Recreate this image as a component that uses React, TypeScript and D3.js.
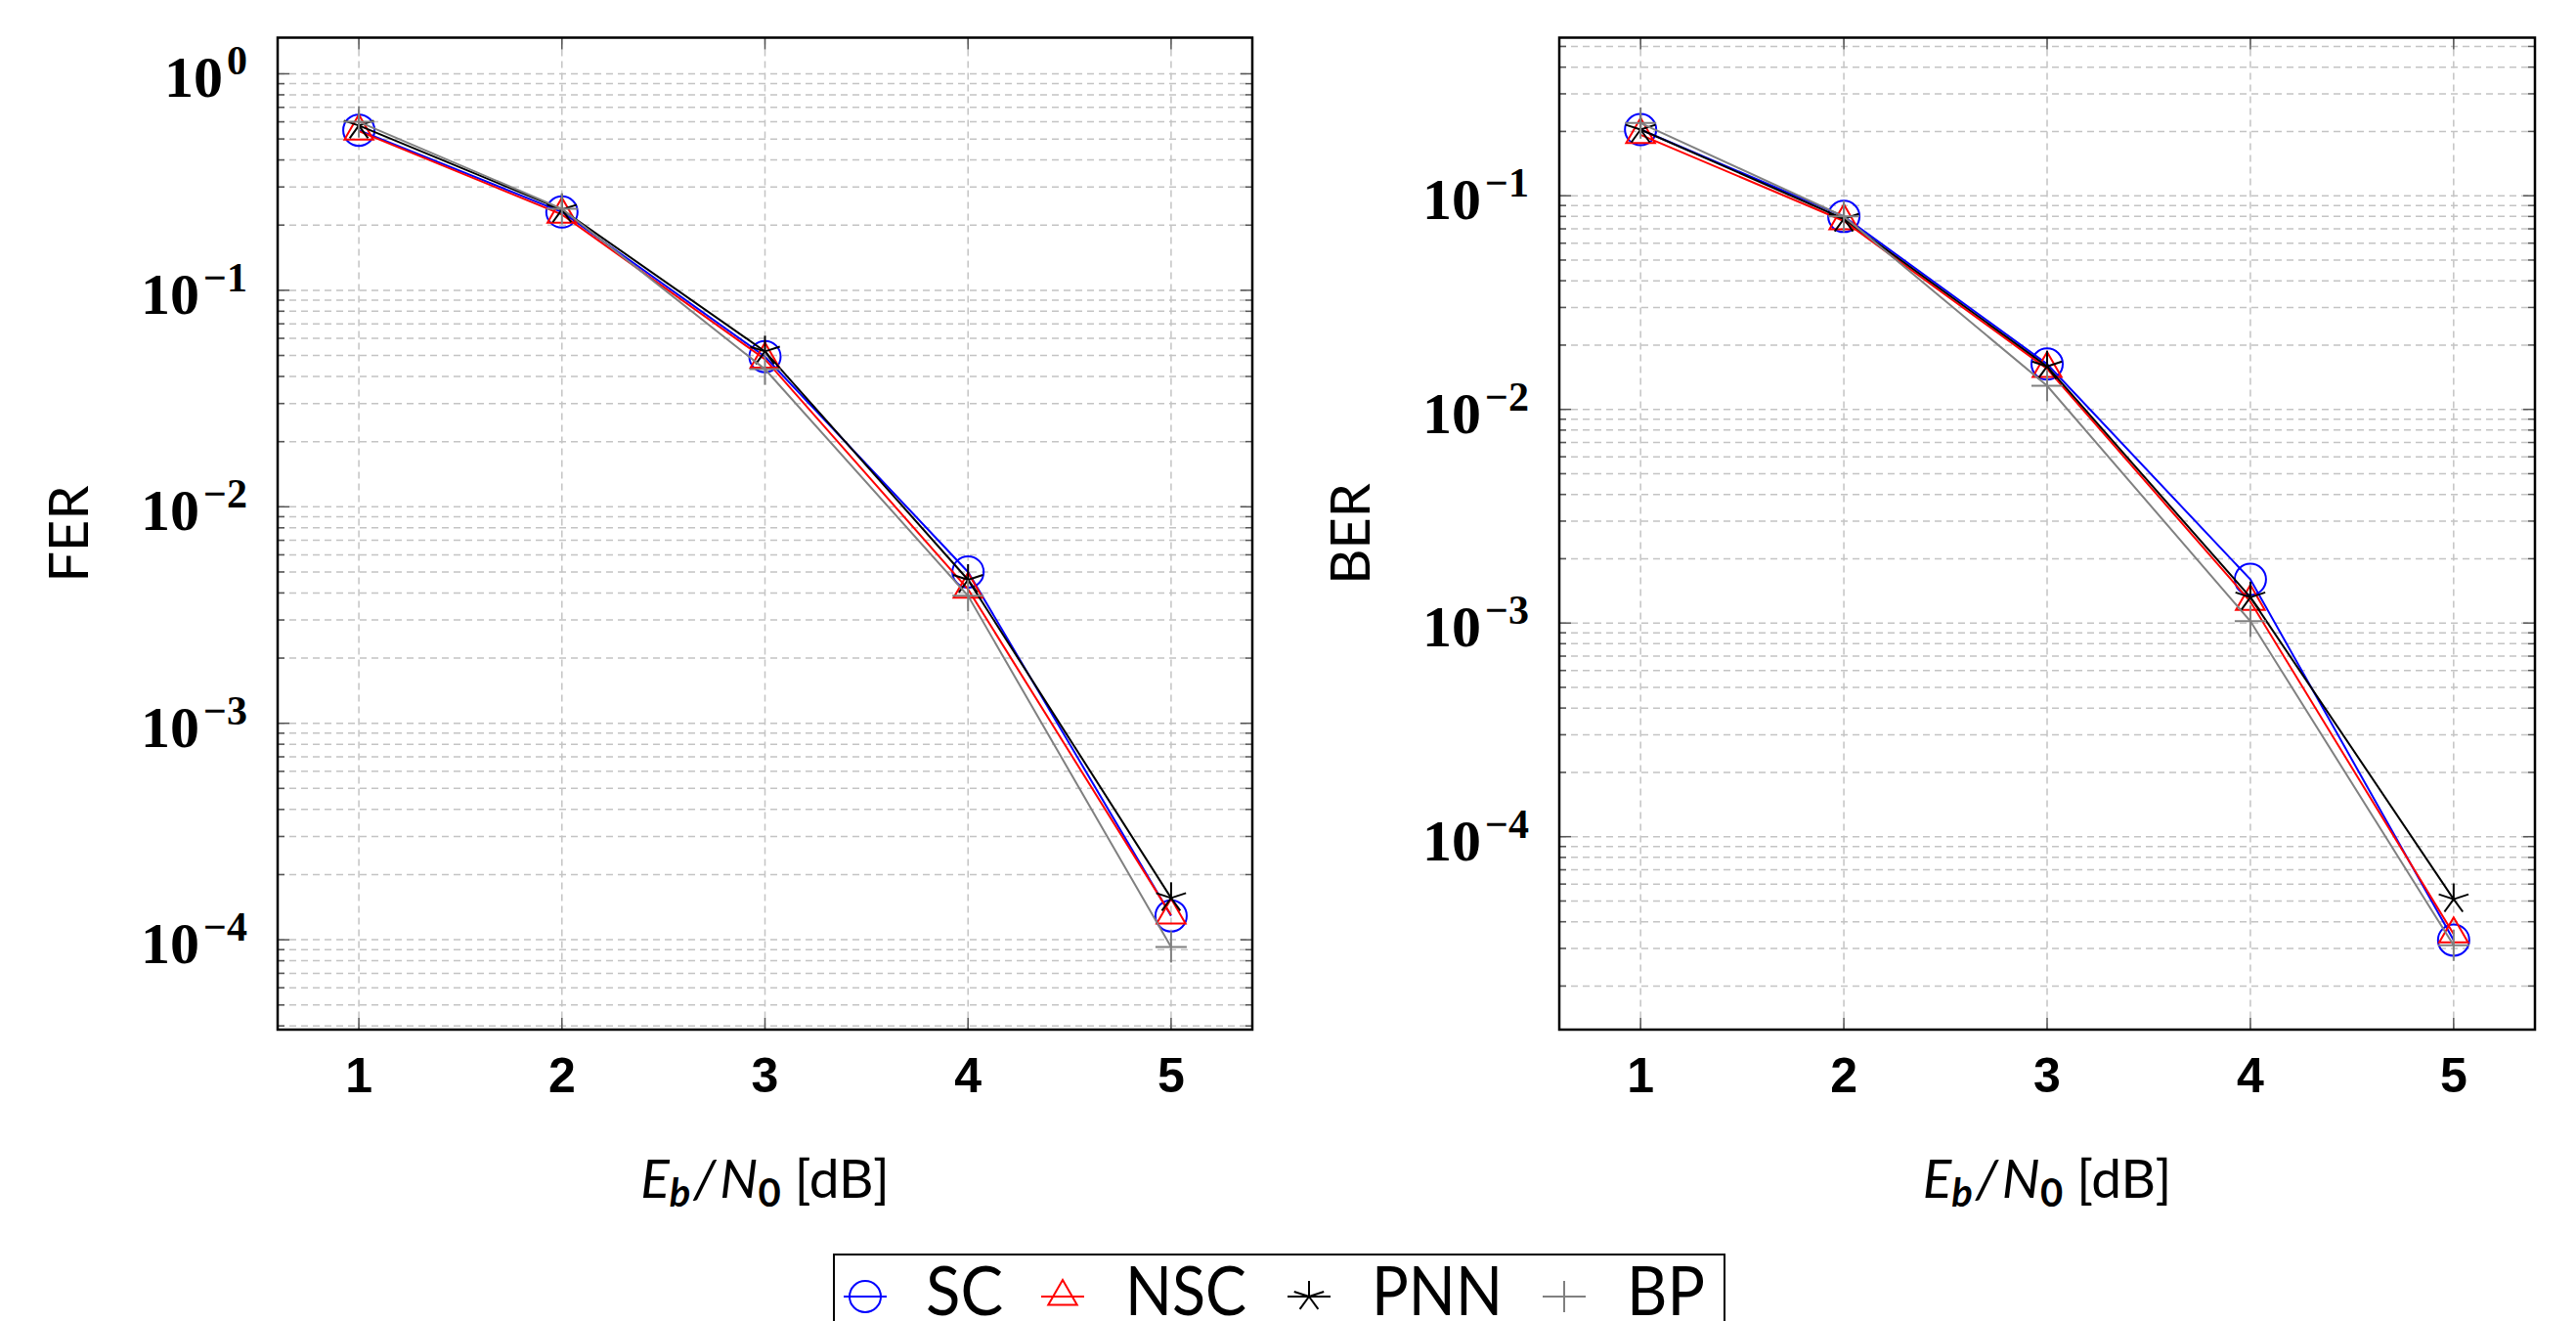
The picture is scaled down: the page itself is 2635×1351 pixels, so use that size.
import React, { useEffect, useRef } from "react";
import * as d3 from "d3";

// Eb/N0 points [dB]
const snr = [1, 2, 3, 4, 5];
const xTicks = [1, 2, 3, 4, 5];
const xLimits = [0.6, 5.4];

// frame error rate
const ferSC = [0.549, 0.23, 0.0494, 0.005, 1.29e-4];
const ferNSC = [0.543, 0.224, 0.048, 0.00416, 1.3e-4];
const ferPNN = [0.577, 0.236, 0.0522, 0.0046, 1.56e-4];
const ferBP = [0.6, 0.238, 0.0432, 0.00388, 9.27e-5];

// bit error rate
const berSC = [0.204, 0.08, 0.0163, 1.6e-3, 3.28e-5];
const berNSC = [0.193, 0.0762, 0.0155, 1.26e-3, 3.5e-5];
const berPNN = [0.204, 0.078, 0.0159, 1.32e-3, 5.1e-5];
const berBP = [0.219, 0.08, 0.0129, 1.02e-3, 3.1e-5];

const ferLimits = [10 ** -4.415, 10 ** 0.167];
const berLimits = [10 ** -4.903, 10 ** -0.26];
const ferDecades = [0, -1, -2, -3, -4];
const berDecades = [-1, -2, -3, -4];

const seriesNames = ["SC", "NSC", "PNN", "BP"];
const seriesColors = ["#0000ff", "#ff0000", "#000000", "#808080"];
const seriesMarks = ["circle", "triangle", "star", "plus"];

const W = 2635;
const H = 1351;
const TOP = 38.5;
const BOTTOM = 1053;

const drawMark = (g, type, cx, cy, color, r = 16) => {
  const s = { stroke: color, "stroke-width": 2, fill: "none" };
  const apply = (sel) => {
    Object.entries(s).forEach(([k, v]) => sel.attr(k, v));
    return sel;
  };
  if (type === "circle") {
    apply(g.append("circle").attr("cx", cx).attr("cy", cy).attr("r", r));
  } else if (type === "triangle") {
    const rr = r + 1;
    const pts = [90, 210, 330].map((a) => {
      const t = (a * Math.PI) / 180;
      return [cx + rr * Math.cos(t), cy - rr * Math.sin(t)];
    });
    apply(g.append("polygon").attr("points", pts.map((p) => p.join(",")).join(" ")));
  } else if (type === "star") {
    [90, 162, 234, 306, 18].forEach((a) => {
      const t = (a * Math.PI) / 180;
      apply(
        g
          .append("line")
          .attr("x1", cx)
          .attr("y1", cy)
          .attr("x2", cx + r * Math.cos(t))
          .attr("y2", cy - r * Math.sin(t))
      );
    });
  } else {
    apply(g.append("line").attr("x1", cx - r).attr("x2", cx + r).attr("y1", cy).attr("y2", cy));
    apply(g.append("line").attr("x1", cx).attr("x2", cx).attr("y1", cy - r).attr("y2", cy + r));
  }
};

const App = () => {
  const ref = useRef(null);

  useEffect(() => {
    const svg = d3.select(ref.current);
    svg.selectAll("*").remove();

    const panels = [
      { label: "FER", series: [ferSC, ferNSC, ferPNN, ferBP], limits: ferLimits, decades: ferDecades, x0: 284, x1: 1281, labelX: 71 },
      { label: "BER", series: [berSC, berNSC, berPNN, berBP], limits: berLimits, decades: berDecades, x0: 1595, x1: 2593, labelX: 1382 },
    ];

    panels.forEach((p) => {
      const x = d3.scaleLinear().domain(xLimits).range([p.x0, p.x1]);
      const y = d3.scaleLog().domain(p.limits).range([BOTTOM, TOP]);
      const g = svg.append("g");

      // minor + major y values
      const lo = Math.floor(Math.log10(p.limits[0]));
      const hi = Math.ceil(Math.log10(p.limits[1]));
      const minor = [];
      for (let d = lo; d <= hi; d++) {
        for (let k = 2; k <= 9; k++) {
          const v = k * 10 ** d;
          if (v > p.limits[0] && v < p.limits[1]) minor.push(v);
        }
      }
      const major = p.decades.map((d) => 10 ** d);

      // grid
      const grid = g.append("g").attr("stroke", "#c4c4c4").attr("stroke-width", 1.5).attr("stroke-dasharray", "7,5");
      [...minor, ...major].forEach((v) => {
        grid.append("line").attr("x1", p.x0).attr("x2", p.x1).attr("y1", y(v)).attr("y2", y(v));
      });
      xTicks.forEach((v) => {
        grid.append("line").attr("x1", x(v)).attr("x2", x(v)).attr("y1", TOP).attr("y2", BOTTOM);
      });

      // ticks, inward on every side
      const ticks = g.append("g").attr("stroke", "#555").attr("stroke-width", 1.5);
      const yTick = (v, len) => {
        ticks.append("line").attr("x1", p.x0).attr("x2", p.x0 + len).attr("y1", y(v)).attr("y2", y(v));
        ticks.append("line").attr("x1", p.x1).attr("x2", p.x1 - len).attr("y1", y(v)).attr("y2", y(v));
      };
      minor.forEach((v) => yTick(v, 7));
      major.forEach((v) => yTick(v, 12));
      xTicks.forEach((v) => {
        ticks.append("line").attr("x1", x(v)).attr("x2", x(v)).attr("y1", BOTTOM).attr("y2", BOTTOM - 12);
        ticks.append("line").attr("x1", x(v)).attr("x2", x(v)).attr("y1", TOP).attr("y2", TOP + 12);
      });

      // series
      const line = d3
        .line()
        .x((d) => x(d[0]))
        .y((d) => y(d[1]));
      p.series.forEach((vals, i) => {
        const pts = snr.map((s, j) => [s, vals[j]]);
        g.append("path")
          .attr("d", line(pts))
          .attr("fill", "none")
          .attr("stroke", seriesColors[i])
          .attr("stroke-width", 2);
        pts.forEach((d) => drawMark(g, seriesMarks[i], x(d[0]), y(d[1]), seriesColors[i]));
      });

      // frame
      g.append("rect")
        .attr("x", p.x0)
        .attr("y", TOP)
        .attr("width", p.x1 - p.x0)
        .attr("height", BOTTOM - TOP)
        .attr("fill", "none")
        .attr("stroke", "#000")
        .attr("stroke-width", 2.5);

      // y tick labels 10^d
      p.decades.forEach((d) => {
        const t = g
          .append("text")
          .attr("x", p.x0 - 31)
          .attr("y", y(10 ** d) + 24)
          .attr("text-anchor", "end")
          .attr("font-family", "'Liberation Serif', serif")
          .attr("font-weight", "bold")
          .attr("font-size", 60);
        t.append("tspan").text("10");
        t.append("tspan")
          .attr("dx", 4)
          .attr("dy", -23)
          .attr("font-size", 42)
          .text(d === 0 ? "0" : "\u2212" + Math.abs(d));
      });

      // x tick labels
      xTicks.forEach((v) => {
        g.append("text")
          .attr("x", x(v))
          .attr("y", BOTTOM + 64)
          .attr("text-anchor", "middle")
          .attr("font-family", "'Liberation Sans', sans-serif")
          .attr("font-weight", "bold")
          .attr("font-size", 50)
          .text(v);
      });

      // x axis label
      const xl = g
        .append("text")
        .attr("x", (p.x0 + p.x1) / 2)
        .attr("y", 1225)
        .attr("text-anchor", "middle")
        .attr("font-family", "Lato, sans-serif")
        .attr("font-size", 55);
      xl.append("tspan").attr("font-style", "italic").text("E");
      xl.append("tspan").attr("font-style", "italic").attr("font-weight", "bold").attr("font-size", 40).attr("dy", 9).text("b");
      xl.append("tspan").attr("font-style", "italic").attr("dy", -9).attr("dx", 3).text("/");
      xl.append("tspan").attr("font-style", "italic").attr("dx", 4).text("N");
      xl.append("tspan").attr("font-weight", "bold").attr("font-size", 40).attr("dy", 9).text("0");
      xl.append("tspan").attr("dy", -9).text(" [dB]");

      // y axis label
      g.append("text")
        .attr("transform", `translate(${p.labelX + 19},546) rotate(-90)`)
        .attr("text-anchor", "middle")
        .attr("font-family", "Lato, sans-serif")
        .attr("font-size", 56)
        .text(p.label);
    });

    // legend
    const lg = svg.append("g");
    lg.append("rect")
      .attr("x", 853)
      .attr("y", 1283)
      .attr("width", 911)
      .attr("height", 90)
      .attr("fill", "#fff")
      .attr("stroke", "#000")
      .attr("stroke-width", 2);
    const markX = [885, 1087, 1339, 1600];
    const textX = [947, 1151, 1403, 1664];
    const textW = [79, 124, 134, 80];
    seriesNames.forEach((name, i) => {
      lg.append("line")
        .attr("x1", markX[i] - 22)
        .attr("x2", markX[i] + 22)
        .attr("y1", 1326)
        .attr("y2", 1326)
        .attr("stroke", seriesColors[i])
        .attr("stroke-width", 2);
      drawMark(lg, seriesMarks[i], markX[i], 1326, seriesColors[i]);
      lg.append("text")
        .attr("x", textX[i])
        .attr("y", 1345)
        .attr("font-family", "Lato, sans-serif")
        .attr("font-size", 70)
        .attr("textLength", textW[i])
        .attr("lengthAdjust", "spacingAndGlyphs")
        .text(name);
    });
  }, []);

  return (
    <svg
      ref={ref}
      width={W}
      height={H}
      style={{ position: "absolute", left: 0, top: 0, background: "#fff" }}
    />
  );
};

export default App;
